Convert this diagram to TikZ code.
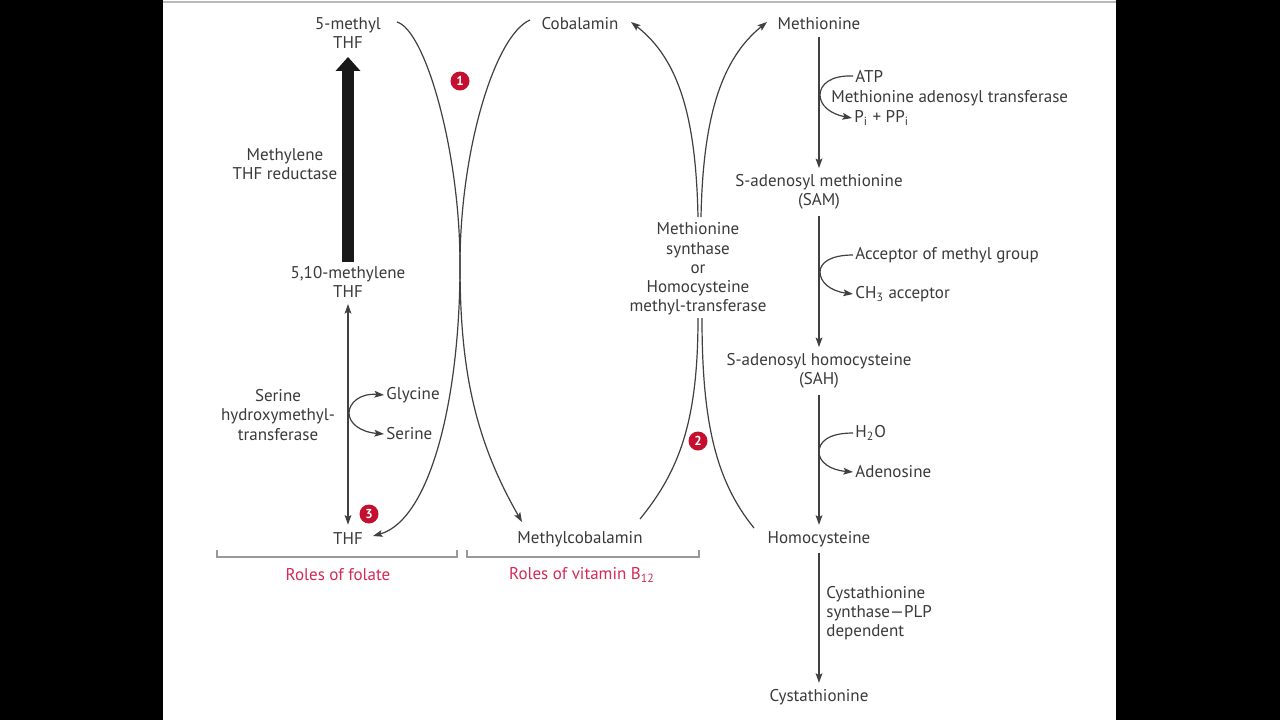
\documentclass[tikz,border=0pt]{standalone}
\usepackage{fontspec}
\setmainfont{PT Sans}
\usetikzlibrary{arrows.meta}
\definecolor{txt}{HTML}{3A3A3A}
\definecolor{lncol}{HTML}{404040}
\definecolor{rtxt}{HTML}{D42A55}
\definecolor{bred}{HTML}{C4102E}
\begin{document}
\begin{tikzpicture}[x=0.5pt,y=-0.5pt,
  >={Stealth[length=4.8pt,width=3.4pt,inset=1pt]},
  lbl/.style={font=\fontsize{8.5}{9.6}\selectfont, text=txt, align=center, inner sep=1pt, yshift=-1pt},
  lbll/.style={lbl, anchor=west, align=left},
  redlbl/.style={font=\fontsize{8.5}{9.6}\selectfont, text=rtxt, inner sep=1pt, yshift=-1pt},
  conn/.style={draw=lncol, line width=0.6pt},
  arr/.style={conn, ->},
  badge/.style={circle, fill=bred, text=white, inner sep=0pt, minimum size=9.5pt, font=\fontsize{6.5}{7}\selectfont\bfseries},
  bracket/.style={draw=gray!80, line width=0.8pt}
]
\fill[black] (0,0) rectangle (1280,720);
\fill[white] (163,0) rectangle (1116,720);
\draw[gray!55, line width=1pt] (163,2) -- (1116,2);
\useasboundingbox (0,0) rectangle (1280,720);

% folate column
\node[lbl] (m5) at (348,31) {5-methyl\\THF};
\node[lbl] (mred) at (285,162) {Methylene\\THF reductase};
\node[lbl] (m510) at (348,280) {5,10-methylene\\THF};
\node[lbl] (thf) at (348,537) {THF};
\node[lbl] (shmt) at (278,413) {Serine\\hydroxymethyl-\\transferase};
\node[lbll] (gly) at (384,393) {Glycine};
\node[lbll] (ser) at (384,432) {Serine};

% B12 column
\node[lbl] (cob) at (580,22) {Cobalamin};
\node[lbl] (mcob) at (580,537) {Methylcobalamin};
\node[lbl] (ms) at (698,267) {Methionine\\synthase\\or\\Homocysteine\\methyl-transferase};

% methionine column
\node[lbl] (met) at (819,22) {Methionine};
\node[lbl] (sam) at (819,190) {S-adenosyl methionine\\(SAM)};
\node[lbl] (sah) at (819,369) {S-adenosyl homocysteine\\(SAH)};
\node[lbl] (hcy) at (819,537) {Homocysteine};
\node[lbl] (cys) at (819,695) {Cystathionine};
\node[lbll] (atp) at (853,74) {ATP};
\node[lbll] (mat) at (829,96) {Methionine adenosyl transferase};
\node[lbll] (ppi) at (852,116) {P\textsubscript{i} + PP\textsubscript{i}};
\node[lbll] (acc) at (853,253) {Acceptor of methyl group};
\node[lbll] (ch3) at (853,292) {CH\textsubscript{3} acceptor};
\node[lbll] (h2o) at (853,431) {H\textsubscript{2}O};
\node[lbll] (ado) at (853,470) {Adenosine};
\node[lbll] (cbs) at (824,611) {Cystathionine\\synthase—PLP\\dependent};

% red labels
\node[redlbl] (rf) at (338,573) {Roles of folate};
\node[redlbl] (rb) at (582,573) {Roles of vitamin B\textsubscript{12}};

% badges
\node[badge] (b1) at (460,81) {1};
\node[badge] (b2) at (698,441) {2};
\node[badge] (b3) at (369,514) {3};

% thick reductase arrow
\draw[line width=6pt, draw=black!90, -{Triangle[length=7pt,width=12pt]}, shorten <=1pt, shorten >=3pt] (m510.north) -- (m5.south);
% SHMT double arrow
\draw[conn, <->, shorten <=2pt, shorten >=3pt] (m510.south) -- (thf.north);
\draw[conn, <->] (gly.west) .. controls (360,393) and (349,403) .. (349,413) .. controls (349,423) and (360,432) .. (ser.west);

% big crossing curves
\coordinate (a0) at (397,22);
\coordinate (a1) at (522,522);
\coordinate (c0) at (530,20);
\coordinate (c1) at (373,536);
\coordinate (x1) at (460,265);
\draw[arr] (a0) .. controls (425,30) and (460,150) .. (x1) .. controls (460,370) and (475,440) .. (a1);
\draw[arr] (c0) .. controls (495,35) and (460,150) .. (x1) .. controls (460,400) and (430,520) .. (c1);

% methionine synthase curves
\coordinate (ms1) at (698,217);
\coordinate (ms2) at (701,217);
\coordinate (ms3) at (698,318);
\coordinate (ms4) at (702,318);
\coordinate (cobE) at (631,22);
\coordinate (metW) at (767,22);
\coordinate (mcobE) at (640,519);
\coordinate (hcyW) at (754,528);
\draw[arr] (ms1) .. controls (696,120) and (680,60) .. (cobE);
\draw[arr] (ms2) .. controls (703,120) and (720,60) .. (metW);
\draw[conn] (ms3) .. controls (698,420) and (680,470) .. (mcobE);
\draw[conn] (ms4) .. controls (702,420) and (715,480) .. (hcyW);

% main vertical pathway
\draw[arr, shorten <=2pt, shorten >=2pt] (met.south) -- (sam.north);
\draw[arr, shorten <=2pt, shorten >=2pt] (sam.south) -- (sah.north);
\draw[arr, shorten <=2pt, shorten >=2pt] (sah.south) -- (hcy.north);
\draw[arr, shorten <=2pt, shorten >=2pt] (hcy.south) -- (cys.north);

% side reactions
\draw[arr] (atp.west) .. controls (830,75) and (820,85) .. (820,95) .. controls (820,105) and (830,114) .. (ppi.west);
\draw[arr] (acc.west) .. controls (830,255) and (820,263) .. (820,272) .. controls (820,282) and (830,291) .. (ch3.west);
\draw[arr] (h2o.west) .. controls (828,433) and (819,442) .. (819,452) .. controls (819,462) and (830,470) .. (ado.west);

% brackets
\draw[bracket] (217,550) -- (217,557) -- (457,557) -- (457,550);
\draw[bracket] (467,550) -- (467,557) -- (699,557) -- (699,550);
\end{tikzpicture}
\end{document}
